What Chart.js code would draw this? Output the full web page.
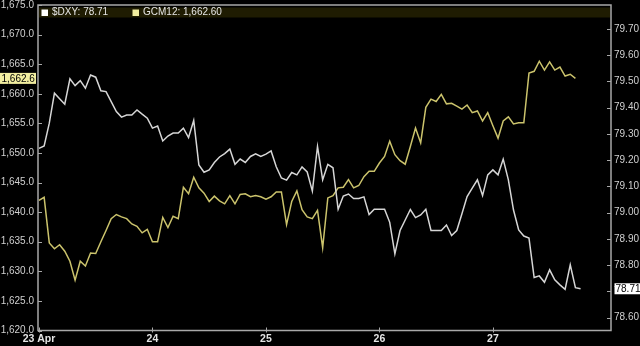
<!DOCTYPE html>
<html>
<head>
<meta charset="utf-8">
<script src="https://cdn.jsdelivr.net/npm/chart.js@4.4.0/dist/chart.umd.min.js"></script>
<style>
  html, body { margin: 0; padding: 0; background: #000; }
</style>
</head>
<body>
<canvas id="chart" width="640" height="346"></canvas>
<script>
// 60 minute bars, one day = 22 bars
const dayLabels = ['23 Apr', '24', '25', '26', '27'];
const barsPerDay = 22;

// $DXY (right axis)
const dxyValues = [
  79.245, 79.254, 79.341, 79.455, 79.434, 79.413, 79.510, 79.484, 79.503, 79.474,
  79.524, 79.516, 79.464, 79.461, 79.423, 79.385, 79.364, 79.372, 79.372, 79.391,
  79.375, 79.360, 79.322, 79.330, 79.273, 79.292, 79.303, 79.303, 79.322, 79.286,
  79.351, 79.182, 79.154, 79.163, 79.191, 79.212, 79.225, 79.242, 79.184, 79.204,
  79.191, 79.214, 79.224, 79.214, 79.223, 79.235, 79.175, 79.132, 79.124, 79.153,
  79.144, 79.174, 79.155, 79.082, 79.252, 79.125, 79.184, 79.171, 79.013, 79.063,
  79.071, 79.054, 79.054, 79.060, 78.993, 79.013, 79.013, 79.013, 78.963, 78.843,
  78.932, 78.972, 79.012, 78.981, 78.991, 79.013, 78.932, 78.932, 78.932, 78.953,
  78.913, 78.932, 78.996, 79.061, 79.093, 79.125, 79.065, 79.144, 79.163, 79.144,
  79.204, 79.125, 79.010, 78.934, 78.911, 78.903, 78.753, 78.759, 78.735, 78.782,
  78.744, 78.725, 78.708, 78.801, 78.714, 78.710
];

// GCM12 (left axis)
const gcmValues = [
  1642.0, 1642.5, 1634.8, 1633.8, 1634.5, 1633.4, 1631.7, 1628.5, 1631.7, 1630.9,
  1633.1, 1633.0, 1635.0, 1636.9, 1638.9, 1639.6, 1639.2, 1638.9, 1638.0, 1637.6,
  1636.5, 1637.1, 1635.0, 1635.0, 1639.1, 1637.4, 1639.3, 1638.9, 1644.2, 1643.1,
  1645.9, 1644.1, 1643.2, 1641.8, 1642.7, 1641.9, 1641.4, 1642.8, 1641.4, 1643.0,
  1643.1, 1642.6, 1642.8, 1642.6, 1642.2, 1642.6, 1643.4, 1643.4, 1637.9, 1641.8,
  1643.6, 1640.4, 1639.2, 1638.9, 1640.3, 1634.0, 1642.4, 1642.8, 1644.1, 1644.2,
  1645.5, 1644.1, 1644.5, 1646.0, 1646.9, 1646.9, 1648.3, 1649.4, 1652.0, 1649.7,
  1648.7, 1648.1, 1651.1, 1654.2, 1651.7, 1657.7, 1659.1, 1658.7, 1659.9, 1658.3,
  1658.4, 1657.9, 1657.4, 1658.1, 1656.8, 1657.1, 1655.4, 1656.8, 1654.6, 1652.5,
  1655.4, 1656.1, 1654.9, 1655.1, 1655.1, 1663.5, 1663.8, 1665.5, 1664.0, 1665.4,
  1664.0, 1664.5, 1663.0, 1663.3, 1662.6
];

const dxyTicks = [78.6, 78.7, 78.8, 78.9, 79.0, 79.1, 79.2, 79.3, 79.4, 79.5, 79.6, 79.7];
const gcmTicks = [1620, 1625, 1630, 1635, 1640, 1645, 1650, 1655, 1660, 1665, 1670, 1675];

const FONT = 'Liberation Sans, Arial, sans-serif';
const WHITE_LINE = '#d6d6d6';
const GOLD_LINE = '#cbc36c';
const FRAME = '#a8a8a8';

const fmt = (v, d) => v.toLocaleString('en-US', { minimumFractionDigits: d, maximumFractionDigits: d });

// frame, inward tick marks, legend band and last value boxes
const framePlugin = {
    id: 'frame',
    afterDraw(chart) {
        const { ctx, chartArea: a, scales } = chart;
        ctx.save();

        ctx.strokeStyle = FRAME;
        ctx.lineWidth = 1.5;
        ctx.strokeRect(a.left, a.top, a.right - a.left, a.bottom - a.top);

        ctx.lineWidth = 1;
        ctx.beginPath();
        scales.yG.ticks.forEach(t => {
            const y = Math.round(scales.yG.getPixelForValue(t.value)) + 0.5;
            ctx.moveTo(a.left, y); ctx.lineTo(a.left + 4, y);
        });
        scales.yD.ticks.forEach(t => {
            const y = Math.round(scales.yD.getPixelForValue(t.value)) + 0.5;
            ctx.moveTo(a.right - 4, y); ctx.lineTo(a.right, y);
        });
        scales.x.ticks.forEach(t => {
            const x = Math.round(scales.x.getPixelForValue(t.value)) + 0.5;
            ctx.moveTo(x, a.bottom - 3); ctx.lineTo(x, a.bottom + 2);
        });
        ctx.stroke();

        // legend band
        ctx.fillStyle = '#1f1c02';
        ctx.fillRect(a.left + 1, a.top + 2.5, a.right - a.left - 2, 10);
        ctx.font = '10px ' + FONT;
        ctx.textBaseline = 'middle';
        const ly = a.top + 7.5;
        const lastDxy = dxyValues[dxyValues.length - 1];
        const lastGcm = gcmValues[gcmValues.length - 1];
        ctx.fillStyle = '#ffffff';
        ctx.fillRect(a.left + 3.5, ly - 3, 6.5, 6.5);
        ctx.fillStyle = '#e6e6e6';
        ctx.fillText('$DXY: ' + lastDxy.toFixed(2), a.left + 14, ly);
        ctx.fillStyle = '#f2eea0';
        ctx.fillRect(a.left + 94.5, ly - 3, 6.5, 6.5);
        ctx.fillStyle = '#e6e6e6';
        ctx.fillText('GCM12: ' + fmt(lastGcm, 2), a.left + 105, ly);

        // last value boxes on the axes
        const gy = scales.yG.getPixelForValue(lastGcm);
        ctx.fillStyle = '#f2eea0';
        ctx.fillRect(0, gy - 5.5, 36, 11);
        ctx.fillStyle = '#000';
        ctx.fillText(fmt(lastGcm, 1), 1.5, gy + 0.5);

        const dy = scales.yD.getPixelForValue(lastDxy);
        ctx.fillStyle = '#ffffff';
        ctx.fillRect(a.right + 3.5, dy - 5.5, 25.5, 11);
        ctx.fillStyle = '#000';
        ctx.fillText(lastDxy.toFixed(2), a.right + 4.5, dy + 0.5);

        ctx.restore();
    }
};

const ctx = document.getElementById('chart').getContext('2d');
new Chart(ctx, {
    type: 'line',
    data: {
        datasets: [
            {
                label: '$DXY',
                data: dxyValues.map((v, i) => ({ x: i, y: v })),
                yAxisID: 'yD',
                borderColor: WHITE_LINE,
                borderWidth: 1.5,
                pointRadius: 0,
                tension: 0
            },
            {
                label: 'GCM12',
                data: gcmValues.map((v, i) => ({ x: i, y: v })),
                yAxisID: 'yG',
                borderColor: GOLD_LINE,
                borderWidth: 1.5,
                pointRadius: 0,
                tension: 0
            }
        ]
    },
    options: {
        responsive: false,
        animation: false,
        layout: { padding: { top: 5, left: 0, right: 0, bottom: 0 } },
        plugins: {
            legend: { display: false },
            tooltip: { enabled: false }
        },
        scales: {
            x: {
                type: 'linear',
                min: -0.19,
                max: 110.9,
                grid: { display: false, drawTicks: false },
                border: { display: false },
                afterBuildTicks: (s) => { s.ticks = dayLabels.map((_, k) => ({ value: k * barsPerDay })); },
                afterFit: (s) => { s.height = 15.5; s.paddingLeft = 0; s.paddingRight = 0; },
                ticks: {
                    autoSkip: false,
                    maxRotation: 0,
                    padding: 3,
                    color: '#e4e4e4',
                    font: { family: FONT, size: 10.5, weight: 'bold', lineHeight: 1 },
                    callback: (v) => dayLabels[Math.round(v / barsPerDay)]
                }
            },
            yG: {
                position: 'left',
                min: 1620,
                max: 1675,
                grid: { display: false, drawTicks: false },
                border: { display: false },
                afterBuildTicks: (s) => { s.ticks = gcmTicks.map(v => ({ value: v })); },
                afterFit: (s) => { s.width = 38; s.paddingTop = 0; s.paddingBottom = 0; },
                ticks: {
                    padding: 4,
                    color: '#d0d0d0',
                    font: { family: FONT, size: 10, lineHeight: 1 },
                    callback: (v) => fmt(v, 1)
                }
            },
            yD: {
                position: 'right',
                min: 78.551,
                max: 79.791,
                grid: { display: false, drawTicks: false },
                border: { display: false },
                afterBuildTicks: (s) => { s.ticks = dxyTicks.map(v => ({ value: v })); },
                afterFit: (s) => { s.width = 29; s.paddingTop = 0; s.paddingBottom = 0; },
                ticks: {
                    padding: 3,
                    color: '#d0d0d0',
                    font: { family: FONT, size: 10, lineHeight: 1 },
                    callback: (v) => v.toFixed(2)
                }
            }
        }
    },
    plugins: [framePlugin]
});
</script>
</body>
</html>
